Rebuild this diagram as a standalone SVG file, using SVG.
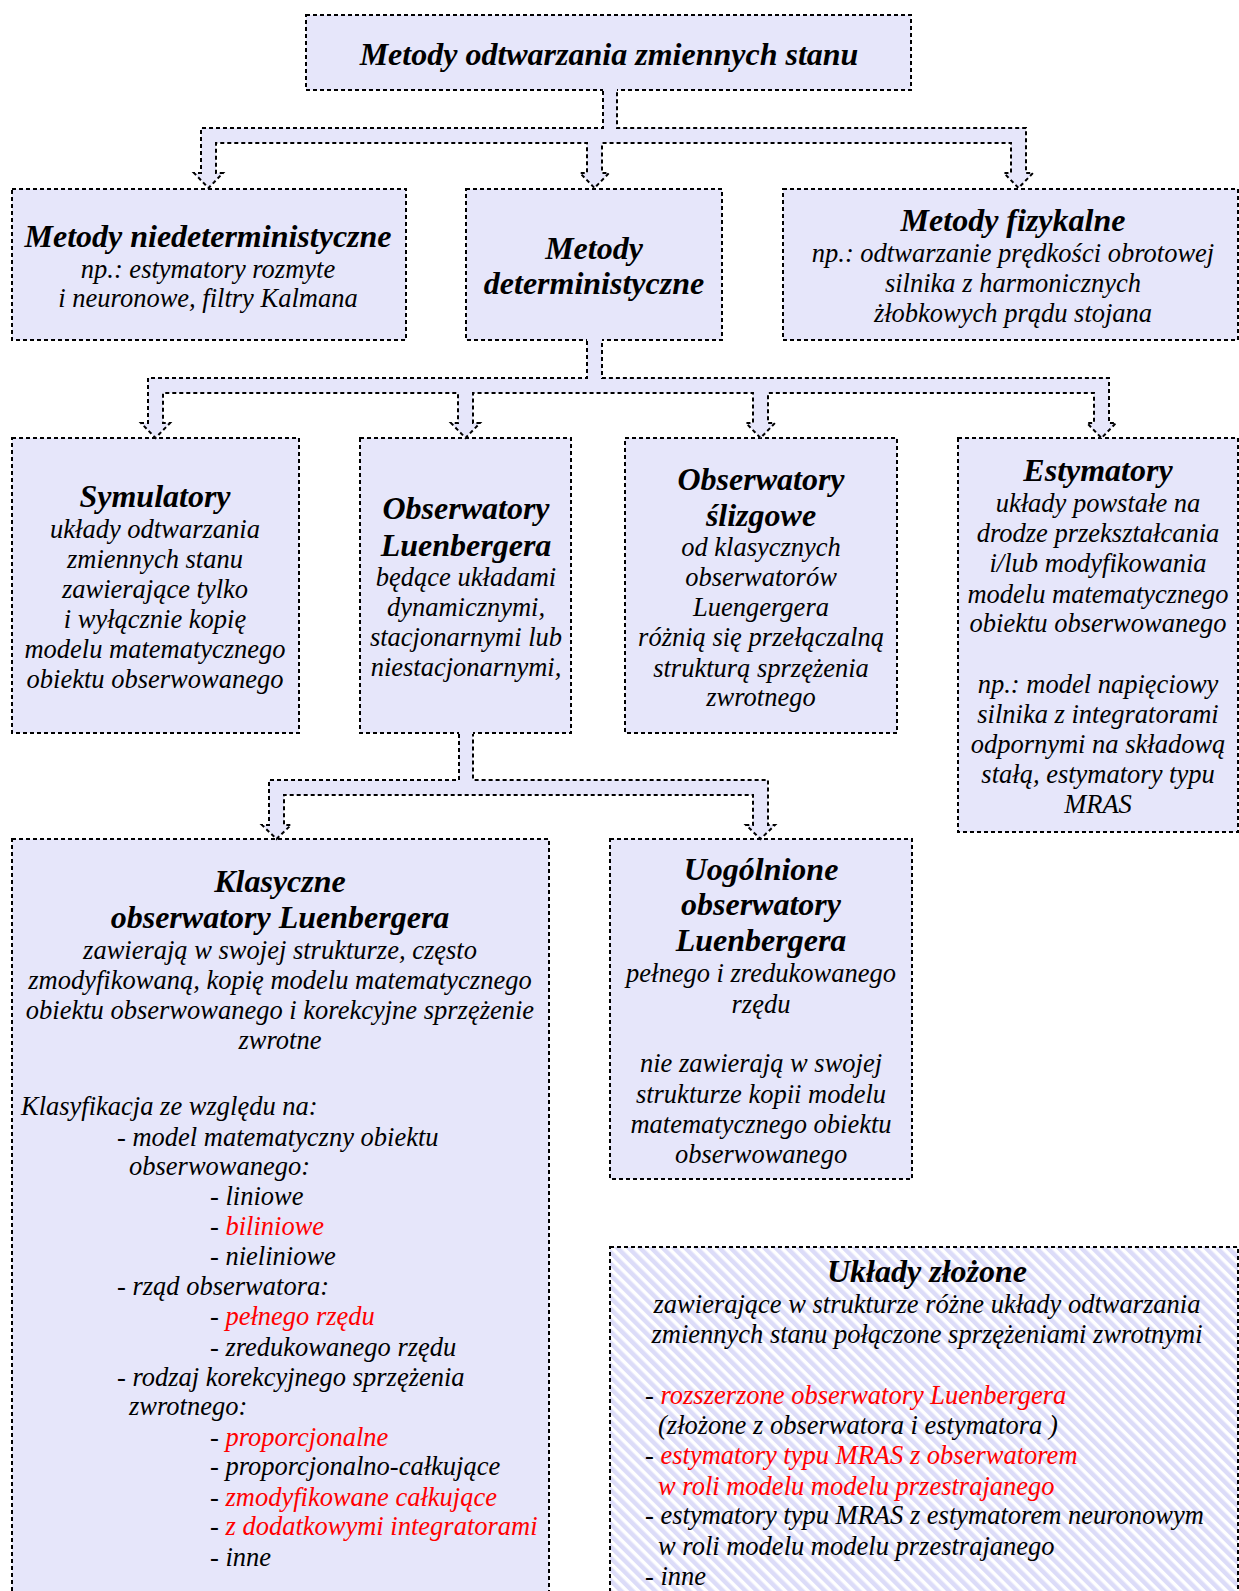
<svg xmlns="http://www.w3.org/2000/svg" width="1239" height="1591" viewBox="0 0 1239 1591">
<style>
.box{fill:#e6e6fa;stroke:#000;stroke-width:2;stroke-dasharray:4 3}
.hatch{fill:url(#stripes);stroke:#000;stroke-width:2;stroke-dasharray:4 3}
.cf{fill:#e6e6fa;stroke:none}
.cs{fill:none;stroke:#000;stroke-width:2;stroke-dasharray:4 3}
text{font-family:"Liberation Serif","Times New Roman",serif;font-style:italic;font-size:26.5px;text-anchor:middle;fill:#000}
.h{font-weight:bold;font-size:32px}
.l{text-anchor:start}
.r{fill:#f00}
</style>
<defs>
<pattern id="stripes" width="8" height="8" patternUnits="userSpaceOnUse" patternTransform="rotate(-45)">
<rect width="8" height="8" fill="#fff"/>
<rect width="4.5" height="8" fill="#dcdcf8"/>
</pattern>
</defs>
<rect width="1239" height="1591" fill="#fff"/>

<g id="n-top">
<rect class="box" x="306" y="15" width="605" height="75"/>
<text class="h" x="609" y="65">Metody odtwarzania zmiennych stanu</text>
</g>
<g id="n-niedet">
<rect class="box" x="12" y="189" width="394" height="151"/>
<text class="h" x="208" y="247">Metody niedeterministyczne</text>
<text x="208" y="278">np.: estymatory rozmyte</text>
<text x="208" y="307">i neuronowe, filtry Kalmana</text>
</g>
<g id="n-det">
<rect class="box" x="466" y="189" width="256" height="151"/>
<text class="h" x="594" y="259">Metody</text>
<text class="h" x="594" y="294">deterministyczne</text>
</g>
<g id="n-fiz">
<rect class="box" x="783" y="189" width="455" height="151"/>
<text class="h" x="1013" y="231">Metody fizykalne</text>
<text x="1013" y="262">np.: odtwarzanie prędkości obrotowej</text>
<text x="1013" y="292">silnika z harmonicznych</text>
<text x="1013" y="322">żłobkowych prądu stojana</text>
</g>
<g id="n-sym">
<rect class="box" x="12" y="438" width="287" height="295"/>
<text class="h" x="155" y="507">Symulatory</text>
<text x="155" y="538">układy odtwarzania</text>
<text x="155" y="568">zmiennych stanu</text>
<text x="155" y="598">zawierające tylko</text>
<text x="155" y="628">i wyłącznie kopię</text>
<text x="155" y="658">modelu matematycznego</text>
<text x="155" y="688">obiektu obserwowanego</text>
</g>
<g id="n-lue">
<rect class="box" x="360" y="438" width="211" height="295"/>
<text class="h" x="466" y="519">Obserwatory</text>
<text class="h" x="466" y="556">Luenbergera</text>
<text x="466" y="586">będące układami</text>
<text x="466" y="616">dynamicznymi,</text>
<text x="466" y="646">stacjonarnymi lub</text>
<text x="466" y="676">niestacjonarnymi,</text>
</g>
<g id="n-sli">
<rect class="box" x="625" y="438" width="272" height="295"/>
<text class="h" x="761" y="490">Obserwatory</text>
<text class="h" x="761" y="526">ślizgowe</text>
<text x="761" y="556">od klasycznych</text>
<text x="761" y="586">obserwatorów</text>
<text x="761" y="616">Luengergera</text>
<text x="761" y="646">różnią się przełączalną</text>
<text x="761" y="677">strukturą sprzężenia</text>
<text x="761" y="706">zwrotnego</text>
</g>
<g id="n-est">
<rect class="box" x="958" y="438" width="280" height="394"/>
<text class="h" x="1098" y="481">Estymatory</text>
<text x="1098" y="512">układy powstałe na</text>
<text x="1098" y="542">drodze przekształcania</text>
<text x="1098" y="572">i/lub modyfikowania</text>
<text x="1098" y="603">modelu matematycznego</text>
<text x="1098" y="632">obiektu obserwowanego</text>
<text x="1098" y="693">np.: model napięciowy</text>
<text x="1098" y="723">silnika z integratorami</text>
<text x="1098" y="753">odpornymi na składową</text>
<text x="1098" y="783">stałą, estymatory typu</text>
<text x="1098" y="813">MRAS</text>
</g>
<g id="n-klas">
<rect class="box" x="12" y="839" width="537" height="770"/>
<text class="h" x="280" y="892">Klasyczne</text>
<text class="h" x="280" y="928">obserwatory Luenbergera</text>
<text x="280" y="959">zawierają w swojej strukturze, często</text>
<text x="280" y="989">zmodyfikowaną, kopię modelu matematycznego</text>
<text x="280" y="1019">obiektu obserwowanego i korekcyjne sprzężenie</text>
<text x="280" y="1049">zwrotne</text>
<text class="l" x="21" y="1115">Klasyfikacja ze względu na:</text>
<text class="l" x="117" y="1146">- model matematyczny obiektu</text>
<text class="l" x="129" y="1175">obserwowanego:</text>
<text class="l" x="210" y="1205">- liniowe</text>
<text class="l" x="210" y="1235">- <tspan class="r">biliniowe</tspan></text>
<text class="l" x="210" y="1265">- nieliniowe</text>
<text class="l" x="117" y="1295">- rząd obserwatora:</text>
<text class="l" x="210" y="1325">- <tspan class="r">pełnego rzędu</tspan></text>
<text class="l" x="210" y="1356">- zredukowanego rzędu</text>
<text class="l" x="117" y="1386">- rodzaj korekcyjnego sprzężenia</text>
<text class="l" x="129" y="1415">zwrotnego:</text>
<text class="l" x="210" y="1446">- <tspan class="r">proporcjonalne</tspan></text>
<text class="l" x="210" y="1475">- proporcjonalno-całkujące</text>
<text class="l" x="210" y="1506">- <tspan class="r">zmodyfikowane całkujące</tspan></text>
<text class="l" x="210" y="1535">- <tspan class="r">z dodatkowymi integratorami</tspan></text>
<text class="l" x="210" y="1566">- inne</text>
</g>
<g id="n-uog">
<rect class="box" x="610" y="839" width="302" height="340"/>
<text class="h" x="761" y="880">Uogólnione</text>
<text class="h" x="761" y="915">obserwatory</text>
<text class="h" x="761" y="951">Luenbergera</text>
<text x="761" y="982">pełnego i zredukowanego</text>
<text x="761" y="1013">rzędu</text>
<text x="761" y="1072">nie zawierają w swojej</text>
<text x="761" y="1103">strukturze kopii modelu</text>
<text x="761" y="1133">matematycznego obiektu</text>
<text x="761" y="1163">obserwowanego</text>
</g>
<g id="n-zloz">
<rect class="hatch" x="610" y="1247" width="628" height="360"/>
<text class="h" x="927" y="1282">Układy złożone</text>
<text x="927" y="1313">zawierające w strukturze różne układy odtwarzania</text>
<text x="927" y="1343">zmiennych stanu połączone sprzężeniami zwrotnymi</text>
<text class="l" x="645" y="1404">- <tspan class="r">rozszerzone obserwatory Luenbergera</tspan></text>
<text class="l" x="658" y="1434">(złożone z obserwatora i estymatora )</text>
<text class="l" x="645" y="1464">- <tspan class="r">estymatory typu MRAS z obserwatorem</tspan></text>
<text class="l r" x="658" y="1495">w roli modelu modelu przestrajanego</text>
<text class="l" x="645" y="1524">- estymatory typu MRAS z estymatorem neuronowym</text>
<text class="l" x="658" y="1555">w roli modelu modelu przestrajanego</text>
<text class="l" x="645" y="1585">- inne</text>
</g>

<g id="connectors">
<path class="cf" d="M603,89 V128 H201 V173 H194 L208.5,188 L223,173 H216 V143 H587 V173 H580 L594.5,188 L609,173 H602 V143 H1011 V173 H1004 L1018.5,188 L1033,173 H1026 V128 H617 V89 Z"/>
<path class="cs" d="M603,91 V128 H201 V173 H194 L208.5,188 L223,173 H216 V143 H587 V173 H580 L594.5,188 L609,173 H602 V143 H1011 V173 H1004 L1018.5,188 L1033,173 H1026 V128 H617 V91"/>
<path class="cf" d="M587,339 V378 H148 V423 H141 L155.5,438 L170,423 H163 V393 H458 V423 H451 L465.5,438 L480,423 H473 V393 H753 V423 H746 L760.5,438 L775,423 H768 V393 H1094 V423 H1087 L1101.5,438 L1116,423 H1109 V378 H602 V339 Z"/>
<path class="cs" d="M587,341 V378 H148 V423 H141 L155.5,438 L170,423 H163 V393 H458 V423 H451 L465.5,438 L480,423 H473 V393 H753 V423 H746 L760.5,438 L775,423 H768 V393 H1094 V423 H1087 L1101.5,438 L1116,423 H1109 V378 H602 V341"/>
<path class="cf" d="M459,732 V780 H269 V825 H262 L276.5,839 L291,825 H284 V795 H753 V825 H746 L760.5,839 L775,825 H768 V780 H473 V732 Z"/>
<path class="cs" d="M459,734 V780 H269 V825 H262 L276.5,839 L291,825 H284 V795 H753 V825 H746 L760.5,839 L775,825 H768 V780 H473 V734"/>
</g>
</svg>
